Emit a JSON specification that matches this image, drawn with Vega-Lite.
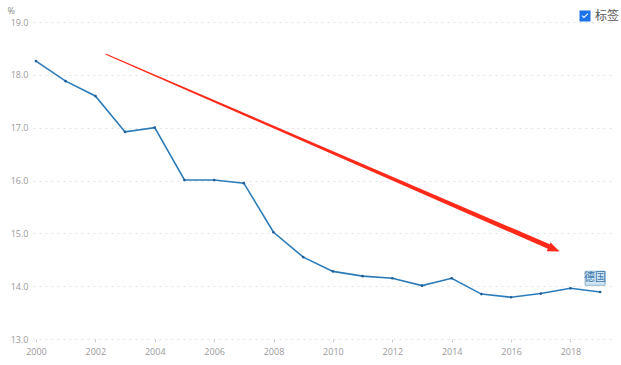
{
  "$schema": "https://vega.github.io/schema/vega-lite/v6.json",
  "autosize": "none",
  "width": 582,
  "height": 317,
  "padding": {"left": 33, "top": 22, "right": 6, "bottom": 26},
  "background": "#ffffff",
  "config": {
    "view": {"stroke": null},
    "font": "Open Sans",
    "axis": {"labelFont": "Open Sans", "titleFont": "Open Sans"}
  },
  "datasets": {
    "series": [
      {"year": 2000, "value": 18.26},
      {"year": 2001, "value": 17.88},
      {"year": 2002, "value": 17.6},
      {"year": 2003, "value": 16.92},
      {"year": 2004, "value": 17.0},
      {"year": 2005, "value": 16.01},
      {"year": 2006, "value": 16.01},
      {"year": 2007, "value": 15.95},
      {"year": 2008, "value": 15.02},
      {"year": 2009, "value": 14.55},
      {"year": 2010, "value": 14.28},
      {"year": 2011, "value": 14.19},
      {"year": 2012, "value": 14.15},
      {"year": 2013, "value": 14.01},
      {"year": 2014, "value": 14.15},
      {"year": 2015, "value": 13.85},
      {"year": 2016, "value": 13.79},
      {"year": 2017, "value": 13.86},
      {"year": 2018, "value": 13.96},
      {"year": 2019, "value": 13.89}
    ],
    "arrow": [
      {"year": 2002.36, "value": 18.39, "seg": 0},
      {"year": 2017.31, "value": 14.74, "seg": 1}
    ],
    "arrowhead": [
      {"year": 2017.45, "value": 14.7}
    ],
    "label": [
      {"year": 2018.83, "value": 14.15, "text": "德国"}
    ]
  },
  "layer": [
    {
      "data": {"name": "series"},
      "mark": {"type": "line", "color": "#2b7bba", "strokeWidth": 1.6},
      "encoding": {
        "x": {
          "field": "year", "type": "quantitative",
          "scale": {"domain": [1999.9, 2019.5], "nice": false, "zero": false},
          "axis": {
            "title": null,
            "values": [2000, 2002, 2004, 2006, 2008, 2010, 2012, 2014, 2016, 2018],
            "format": "d",
            "grid": false,
            "domain": false,
            "ticks": true,
            "tickSize": 3,
            "tickColor": "#cccccc",
            "labelColor": "#9a9a9a",
            "labelFontSize": 9,
            "labelPadding": 5
          }
        },
        "y": {
          "field": "value", "type": "quantitative",
          "scale": {"domain": [13, 19], "nice": false, "zero": false},
          "axis": {
            "title": "%",
            "titleAngle": 0,
            "titleAlign": "left",
            "titleBaseline": "middle",
            "titleX": -26,
            "titleY": -12,
            "titleFontSize": 9,
            "titleFontWeight": "normal",
            "titleColor": "#888888",
            "values": [13, 13.5, 14, 14.5, 15, 15.5, 16, 16.5, 17, 17.5, 18, 18.5, 19],
            "format": ".1f",
            "grid": true,
            "gridColor": "#e2e2e2",
            "gridDash": [2, 4],
            "domain": false,
            "ticks": false,
            "labelColor": "#9a9a9a",
            "labelFontSize": 9,
            "labelPadding": 5
          }
        }
      }
    },
    {
      "data": {"name": "series"},
      "mark": {"type": "point", "filled": true, "size": 7, "opacity": 1, "shape": "circle", "color": "#1f5f96"},
      "encoding": {
        "x": {"field": "year", "type": "quantitative"},
        "y": {"field": "value", "type": "quantitative"}
      }
    },
    {
      "data": {"name": "label"},
      "mark": {"type": "point", "filled": true, "size": 0, "shape": "square"},
      "encoding": {
        "x": {"field": "year", "type": "quantitative"},
        "y": {"field": "value", "type": "quantitative"},
        "color": {
          "datum": "标签",
          "scale": {"range": ["#1a73e8"]},
          "legend": {
            "title": null,
            "orient": "none",
            "legendX": 546,
            "legendY": -12,
            "padding": 0,
            "symbolType": "M-1,-1 L1,-1 L1,1 L-1,1 Z M-0.6,0.02 L-0.2,0.42 L0.6,-0.35 L0.45,-0.5 L-0.2,0.12 L-0.45,-0.13 Z",
            "symbolSize": 121,
            "symbolOpacity": 1,
            "symbolStrokeWidth": 0,
            "labelFont": "Noto Sans CJK SC",
            "labelFontSize": 12,
            "labelColor": "#555555",
            "labelOffset": 4
          }
        }
      }
    },
    {
      "data": {"name": "arrow"},
      "mark": {"type": "trail", "color": "#ff2a1a"},
      "encoding": {
        "x": {"field": "year", "type": "quantitative"},
        "y": {"field": "value", "type": "quantitative"},
        "order": {"field": "seg", "type": "quantitative"},
        "size": {
          "field": "seg", "type": "quantitative",
          "scale": {"domain": [0, 1], "range": [1, 5]},
          "legend": null
        }
      }
    },
    {
      "data": {"name": "arrowhead"},
      "mark": {
        "type": "point",
        "shape": "M-1,-0.8 L1,0 L-1,0.8 Z",
        "size": 144,
        "angle": 23.6,
        "filled": true,
        "color": "#ff2a1a",
        "opacity": 1
      },
      "encoding": {
        "x": {"field": "year", "type": "quantitative"},
        "y": {"field": "value", "type": "quantitative"}
      }
    },
    {
      "data": {"name": "label"},
      "mark": {
        "type": "point",
        "shape": "M-1,-0.7 L1,-0.7 L1,0.7 L-1,0.7 Z",
        "size": 400,
        "filled": true,
        "fill": "#d3e5f3",
        "stroke": "#8fb3cf",
        "strokeWidth": 1,
        "opacity": 1
      },
      "encoding": {
        "x": {"field": "year", "type": "quantitative"},
        "y": {"field": "value", "type": "quantitative"}
      }
    },
    {
      "data": {"name": "label"},
      "mark": {
        "type": "text",
        "font": "Noto Sans CJK SC",
        "fontSize": 11,
        "color": "#3a78ad",
        "align": "center",
        "baseline": "middle"
      },
      "encoding": {
        "x": {"field": "year", "type": "quantitative"},
        "y": {"field": "value", "type": "quantitative"},
        "text": {"field": "text"}
      }
    }
  ]
}
